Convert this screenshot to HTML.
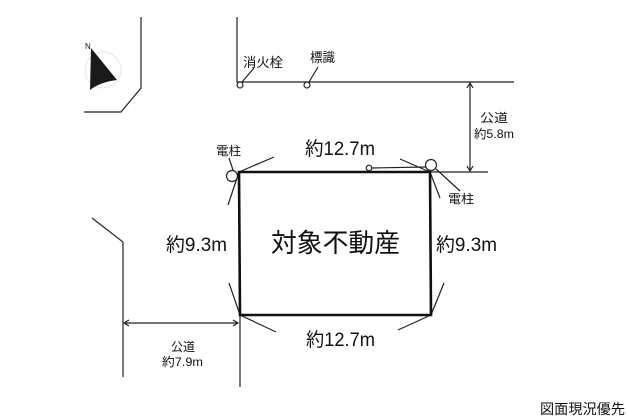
<!DOCTYPE html>
<html><head><meta charset="utf-8"><style>
html,body{margin:0;padding:0;background:#fff;}
svg{display:block;}
text{font-family:"Liberation Sans","Noto Sans CJK JP",sans-serif;fill:#111;}
</style></head><body>
<svg width="628" height="420" viewBox="0 0 628 420" xmlns="http://www.w3.org/2000/svg">
<g stroke="#222" fill="none" stroke-width="1.2">
<polyline points="141,17 141,88 121,112 84,112"/>
<polyline points="237,17 237,82 514,82"/>
<line x1="430" y1="172" x2="488" y2="172"/>
<polyline points="92,218 123,242 123,377"/>
<line x1="240" y1="316" x2="240" y2="387"/>
<line x1="239" y1="172" x2="274" y2="157"/>
<line x1="239" y1="172" x2="228" y2="205"/>
<line x1="430" y1="172" x2="400" y2="159"/>
<line x1="430" y1="172" x2="440" y2="198"/>
<line x1="436" y1="169" x2="460" y2="191"/>
<line x1="229" y1="283" x2="240" y2="315"/>
<line x1="240" y1="315" x2="276" y2="332"/>
<line x1="444" y1="283" x2="431" y2="315"/>
<line x1="431" y1="315" x2="398" y2="330"/>
<line x1="372" y1="168" x2="427" y2="167"/>
<line x1="242" y1="82" x2="254" y2="68"/>
<line x1="309" y1="82" x2="318" y2="67"/>
<line x1="229" y1="158" x2="233" y2="170"/>
<circle cx="240" cy="85" r="3" fill="#fff"/>
<circle cx="307" cy="85" r="3" fill="#fff"/>
<circle cx="232" cy="176" r="5.5" fill="#fff"/>
<circle cx="431" cy="165" r="5.5" fill="#fff"/>
<circle cx="369" cy="168" r="2.8" fill="#fff"/>
<line x1="470" y1="83" x2="470" y2="171"/>
<polyline points="467,88 470,83 473,88"/>
<polyline points="467,166 470,171 473,166"/>
<line x1="124" y1="323" x2="238" y2="323"/>
<polyline points="129,320 124,323 129,326"/>
<polyline points="233,320 238,323 233,326"/>
</g>
<polygon points="239,172 430,172 431,315 240,315" fill="none" stroke="#111" stroke-width="2.6"/>
<circle cx="103" cy="70" r="18" fill="none" stroke="#e6e6e6" stroke-width="1"/>
<path d="M91,48 L117,80 Q100,82 90,90 Z" fill="#1a1a1a"/>
<text x="85" y="49" font-size="8">N</text>
<text x="243" y="67" font-size="13" textLength="40" lengthAdjust="spacingAndGlyphs">消火栓</text>
<text x="310" y="62" font-size="13" textLength="25" lengthAdjust="spacingAndGlyphs">標識</text>
<text x="480" y="122" font-size="12" textLength="28" lengthAdjust="spacingAndGlyphs">公道</text>
<text x="474" y="138" font-size="12" textLength="40" lengthAdjust="spacingAndGlyphs">約5.8m</text>
<text x="216" y="155" font-size="12" textLength="25" lengthAdjust="spacingAndGlyphs">電柱</text>
<text x="448" y="203" font-size="12" textLength="26" lengthAdjust="spacingAndGlyphs">電柱</text>
<text x="305" y="155" font-size="19" textLength="70" lengthAdjust="spacingAndGlyphs">約12.7m</text>
<text x="166" y="251" font-size="19" textLength="61" lengthAdjust="spacingAndGlyphs">約9.3m</text>
<text x="436" y="251" font-size="19" textLength="61" lengthAdjust="spacingAndGlyphs">約9.3m</text>
<text x="271" y="252" font-size="26" textLength="129" lengthAdjust="spacingAndGlyphs">対象不動産</text>
<text x="306" y="346" font-size="19" textLength="69" lengthAdjust="spacingAndGlyphs">約12.7m</text>
<text x="171" y="351" font-size="12" textLength="24" lengthAdjust="spacingAndGlyphs">公道</text>
<text x="162" y="366" font-size="12" textLength="41" lengthAdjust="spacingAndGlyphs">約7.9m</text>
<text x="540" y="414" font-size="14" textLength="85" lengthAdjust="spacingAndGlyphs">図面現況優先</text>
</svg>
</body></html>
